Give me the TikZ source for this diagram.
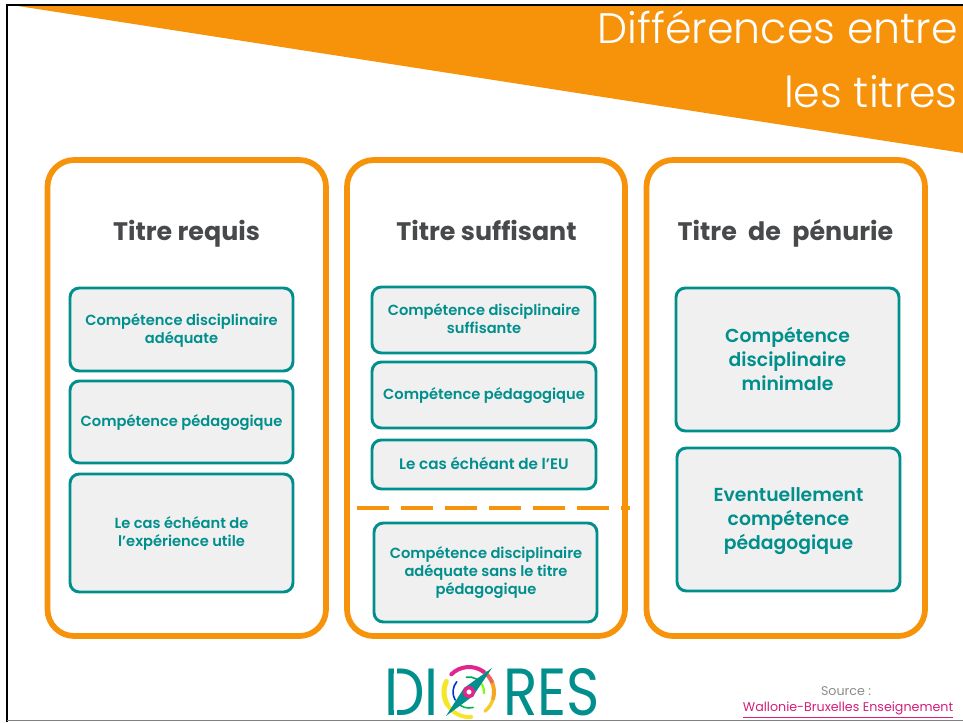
\documentclass[tikz,border=0pt]{standalone}
\usepackage{fontspec}
\setmainfont{Poppins}[BoldFont={Poppins SemiBold}]
\newfontfamily\lightf{Poppins Light}
\newfontfamily\headf{Poppins Bold}
\definecolor{orangeA}{HTML}{F7930A}
\definecolor{tealA}{HTML}{008F8C}
\definecolor{boxfill}{HTML}{F0F0F0}
\definecolor{headgray}{HTML}{47494B}
\definecolor{srcgray}{HTML}{8C8C8C}
\definecolor{linkpink}{HTML}{D41F7A}
\definecolor{ringY}{HTML}{F6E62A}
\definecolor{ringO}{HTML}{F5A623}
\definecolor{ringP}{HTML}{E0258C}
\tikzset{
  panel/.style={draw=orangeA,line width=4.3pt,rounded corners=20pt,fill=white},
  inner/.style={draw=tealA,line width=2.2pt,rounded corners=7pt,fill=boxfill},
  lab/.style={text=tealA,font=\bfseries\fontsize{11}{13.5}\selectfont,align=center},
  labbig/.style={text=tealA,font=\bfseries\fontsize{14.1}{18}\selectfont,align=center},
  head/.style={text=headgray,font=\headf\fontsize{19}{22}\selectfont,anchor=base,inner sep=0pt},
  title/.style={text=white,font=\lightf\fontsize{32}{34}\selectfont,anchor=base east,inner sep=0pt},
  logotext/.style={text=tealA,font=\fontsize{50}{50}\selectfont,anchor=base west,inner sep=0pt},
  ring/.style={line width=#1,line cap=round},
}
\begin{document}
\begin{tikzpicture}[x=0.75pt,y=-0.75pt]
\useasboundingbox (0,0) rectangle (963,722);
\fill[white] (0,0) rectangle (963,722);
% frame
\draw[black,line width=1.9pt] (7.2,722) -- (7.2,5.2) -- (963,5.2);
\draw[gray,line width=1.2pt] (7.2,720.6) -- (963,720.6);
% banner
\fill[orangeA] (18,6) -- (963,153) -- (963,6) -- cycle;
\node[title] (t1) at (958,43) {Différences entre};
\node[title] (t2) at (958,107) {les titres};
% panels
\draw[panel] (47.5,160) rectangle (326,636);
\draw[panel] (347,160) rectangle (625,636);
\draw[panel] (646.5,160) rectangle (925,636);
\node[head] (h1) at (186.5,240) {Titre requis};
\node[head] (h2) at (486.5,240) {Titre suffisant};
\node[head] (h3) at (785.5,240) {Titre\hspace{4.5pt} de\hspace{4.5pt} pénurie};
% column 1
\draw[inner] (70,288) rectangle (293,371);
\node[lab] (a1) at (181.5,330) {Compétence disciplinaire\\adéquate};
\draw[inner] (70,381) rectangle (293,463);
\node[lab] (a2) at (181.5,423) {Compétence pédagogique};
\draw[inner] (70,474) rectangle (293,592);
\node[lab] (a3) at (181.5,533) {Le cas échéant de\\l’expérience utile};
% column 2
\draw[inner] (372,287) rectangle (595,353);
\node[lab] (b1) at (484,319) {Compétence disciplinaire\\suffisante};
\draw[inner] (372,362) rectangle (596,428);
\node[lab] (b2) at (484,396) {Compétence pédagogique};
\draw[inner] (372,440) rectangle (596,489);
\node[lab,font=\bfseries\fontsize{11.4}{13.5}\selectfont] (b3) at (484,463) {Le cas échéant de l’EU};
\draw[orangeA,line width=3pt,dash pattern=on 24pt off 9pt] (357,508) -- (630,508);
\draw[inner] (374,523) rectangle (597,622);
\node[lab] (b4) at (486,573) {Compétence disciplinaire\\adéquate sans le titre\\pédagogique};
% column 3
\draw[inner] (676,288) rectangle (899,431);
\node[labbig] (c1) at (787.5,359) {Compétence\\disciplinaire\\minimale};
\draw[inner] (677,448) rectangle (900,591);
\node[labbig] (c2) at (788.5,521.5) {Eventuellement\\compétence\\pédagogique};
% logo letters
\node[logotext] (di) at (384,715) {\scalebox{0.86}[1]{DI}};
\fill[white] (394,664) rectangle (396.5,719);
\node[logotext] (res) at (503,715) {\scalebox{0.85}[1]{RES}};
% logo compass: outer ring
\coordinate (cc) at (469,692);
\draw[ring=3.8pt,color=ringY] (cc)+(205:25) arc (205:150:25);
\draw[ring=3pt,color=ringY] (cc)+(150:25) arc (150:85:25);
\draw[ring=2.6pt,color=ringY!60!ringO] (cc)+(50:25) arc (50:15:25);
\draw[ring=3pt,color=ringO] (cc)+(15:25) arc (15:-25:25);
\draw[ring=3pt,color=ringO!50!ringP] (cc)+(-25:25) arc (-25:-55:25);
\draw[ring=3pt,color=ringP] (cc)+(-55:25) arc (-55:-135:25);
% logo compass: inner ring
\draw[ring=1.2pt,color=blue!60!teal] (cc)+(220:16) arc (220:150:16);
\draw[ring=1.2pt,color=green!45!teal] (cc)+(140:16) arc (140:75:16);
\draw[ring=1.6pt,color=green!50!yellow] (cc)+(5:15) arc (5:-60:15);
\draw[ring=1.2pt,color=teal!70!green] (cc)+(-60:15) arc (-60:-100:15);
% logo compass: needle and hub
\fill[tealA] (492,668) -- (473,696) -- (446,716) -- (464,688) -- cycle;
\draw[draw=ringP,line width=2.6pt,fill=white] (cc) circle (4.5);
% source
\node[text=srcgray,font=\fontsize{9.5}{11}\selectfont] (src) at (846,691) {Source :};
\node[text=linkpink,font=\fontsize{9.5}{11}\selectfont] (wb) at (848,710) {\underline{Wallonie-Bruxelles Enseignement}};
\end{tikzpicture}
\end{document}
